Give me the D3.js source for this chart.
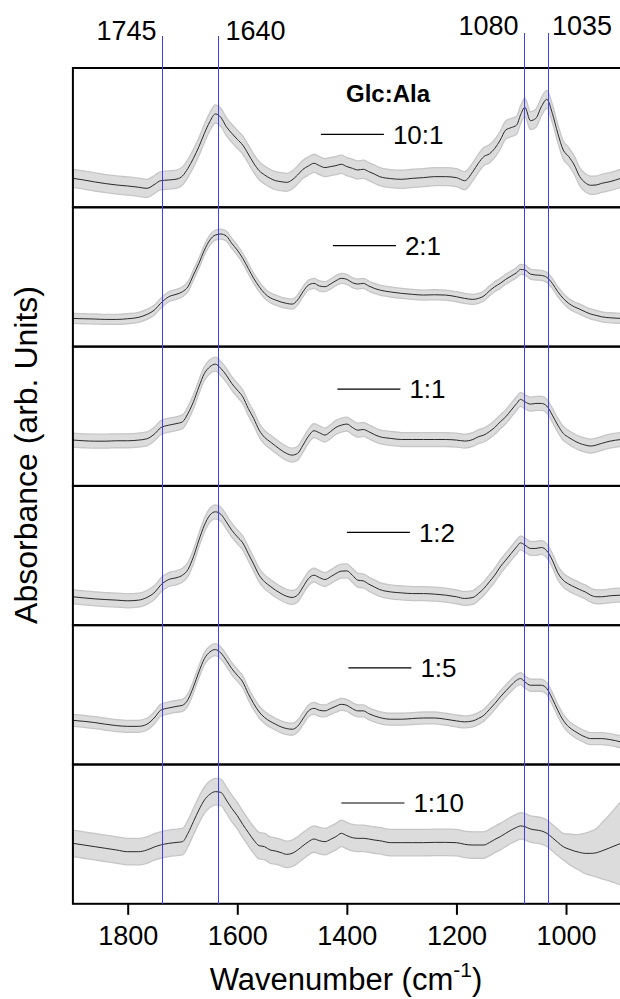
<!DOCTYPE html>
<html>
<head>
<meta charset="utf-8">
<script src="https://cdn.jsdelivr.net/npm/d3@7"></script>
<style>
body { margin: 0; background: #fff; }
svg { display: block; font-family: "Liberation Sans", Arial, sans-serif; }
</style>
</head>
<body>
<svg id="chart" width="620" height="999"></svg>
<script>
// shared wavenumber grid, cm-1
var wavenumbers = [
  1900, 1880, 1860, 1840, 1820, 1800, 1780, 1765, 1750, 1740,
  1725, 1710, 1700, 1690, 1680, 1670, 1660, 1650, 1640, 1630,
  1620, 1610, 1600, 1590, 1580, 1570, 1560, 1550, 1540, 1530,
  1520, 1510, 1500, 1490, 1480, 1470, 1460, 1450, 1440, 1430,
  1420, 1410, 1400, 1390, 1380, 1370, 1360, 1350, 1340, 1320,
  1300, 1280, 1260, 1240, 1220, 1200, 1185, 1170, 1160, 1150,
  1140, 1130, 1120, 1110, 1100, 1090, 1083, 1075, 1065, 1055,
  1045, 1035, 1025, 1015, 1005, 995, 985, 975, 965, 955,
  945, 935, 920, 900
];

var ratios = ["10:1", "2:1", "1:1", "1:2", "1:5", "1:10"];

// absorbance, arb. units (0-100 per panel)
var abs_10_1 = [
  20.8, 19.6, 18.2, 17.0, 16.0, 15.3, 14.4, 13.6, 16.7, 19.1,
  19.6, 20.3, 22.5, 28.0, 35.2, 43.5, 53.1, 61.5, 67.0, 64.6,
  57.9, 53.1, 48.8, 44.7, 38.3, 31.6, 26.3, 23.2, 20.8, 19.1,
  18.4, 17.9, 19.6, 23.2, 27.3, 29.7, 31.6, 29.9, 28.5, 29.2,
  29.9, 30.9, 29.2, 28.0, 26.8, 27.3, 25.6, 23.9, 22.0, 20.6,
  20.1, 20.8, 21.3, 22.0, 22.0, 21.3, 19.1, 25.6, 31.6, 36.4,
  38.3, 42.3, 48.3, 55.5, 57.2, 59.1, 66.3, 71.8, 62.2, 63.9,
  72.2, 77.5, 67.5, 53.1, 41.1, 36.4, 30.4, 22.0, 17.7, 15.8,
  16.0, 17.2, 18.4, 20.8
];
var abs_2_1 = [
  20.2, 20.0, 19.8, 19.5, 19.5, 20.0, 21.0, 23.1, 26.7, 31.0,
  35.8, 37.7, 39.4, 43.0, 51.4, 59.8, 69.3, 76.5, 80.1, 80.8,
  79.4, 74.1, 69.3, 63.4, 56.2, 49.0, 43.0, 38.2, 35.1, 33.4,
  32.0, 31.0, 30.5, 33.4, 39.4, 44.2, 45.4, 43.5, 43.0, 44.9,
  47.3, 49.0, 48.3, 45.9, 44.9, 45.4, 43.5, 41.8, 40.6, 39.2,
  38.2, 37.5, 37.0, 37.2, 37.0, 35.8, 34.6, 33.9, 34.6, 36.3,
  39.9, 43.0, 45.4, 48.3, 50.7, 53.1, 55.4, 55.0, 52.1, 51.4,
  51.1, 49.7, 45.4, 39.4, 34.6, 31.0, 28.6, 26.9, 25.0, 23.4,
  22.4, 21.4, 20.7, 20.2
];
var abs_1_1 = [
  32.9, 32.4, 32.1, 32.1, 32.4, 32.4, 32.9, 33.8, 37.7, 41.7,
  43.6, 44.8, 46.0, 52.0, 60.4, 71.1, 80.7, 85.5, 87.4, 84.3,
  79.5, 73.5, 68.8, 64.0, 55.6, 48.4, 40.0, 34.8, 31.7, 28.6,
  25.7, 23.3, 22.1, 23.3, 29.3, 35.7, 39.6, 38.1, 36.5, 38.9,
  42.0, 43.6, 44.4, 42.0, 40.0, 40.5, 38.9, 36.9, 35.3, 34.1,
  33.3, 33.3, 33.3, 33.3, 33.3, 32.9, 32.2, 33.3, 35.3, 36.5,
  38.9, 42.0, 46.0, 49.6, 54.4, 59.2, 62.1, 60.4, 58.7, 59.2,
  59.2, 57.3, 50.8, 43.6, 37.7, 34.8, 32.4, 30.5, 29.3, 28.6,
  29.3, 30.5, 32.1, 33.3
];
var abs_1_2 = [
  20.4, 19.6, 18.9, 18.4, 18.0, 17.5, 18.0, 19.9, 23.9, 28.7,
  32.8, 34.2, 35.9, 40.0, 49.1, 61.1, 71.8, 79.0, 81.4, 79.7,
  74.2, 68.2, 63.5, 59.1, 51.5, 43.8, 35.9, 31.1, 28.0, 25.1,
  22.7, 20.8, 19.9, 21.6, 27.5, 33.5, 35.9, 34.2, 32.8, 34.7,
  37.1, 38.8, 39.0, 35.9, 32.3, 31.8, 29.5, 27.5, 25.6, 23.9,
  23.2, 22.7, 22.7, 22.3, 21.6, 20.4, 19.2, 19.9, 22.7, 26.3,
  31.1, 35.9, 41.9, 46.7, 51.5, 56.3, 59.1, 57.5, 55.1, 55.1,
  55.8, 53.4, 46.7, 37.6, 32.3, 29.5, 27.5, 25.6, 23.9, 21.6,
  20.4, 20.4, 21.1, 21.6
];
var abs_1_5 = [
  31.7, 31.0, 30.1, 28.9, 27.9, 27.4, 27.4, 28.9, 34.1, 38.9,
  40.6, 41.8, 42.5, 46.6, 55.7, 66.5, 76.0, 80.8, 82.5, 80.1,
  74.8, 68.8, 64.1, 59.3, 50.9, 43.7, 37.7, 33.7, 31.0, 28.9,
  27.0, 25.8, 25.3, 27.4, 32.9, 38.5, 40.3, 38.9, 38.5, 40.1,
  41.8, 43.2, 42.5, 40.1, 38.5, 38.5, 36.5, 34.9, 33.7, 32.5,
  32.5, 33.0, 33.4, 33.4, 32.5, 31.3, 30.6, 31.3, 33.0, 35.3,
  39.4, 43.7, 48.5, 52.8, 56.9, 60.5, 61.7, 59.3, 56.9, 56.9,
  56.9, 54.5, 47.3, 38.9, 31.7, 27.0, 24.1, 21.7, 19.8, 18.6,
  18.6, 18.6, 17.9, 16.2
];
var abs_1_10 = [
  43.4, 42.2, 41.0, 39.8, 38.6, 37.4, 37.4, 38.6, 41.0, 42.2,
  43.4, 44.1, 44.6, 50.6, 59.0, 67.4, 74.5, 78.6, 80.5, 80.0,
  74.5, 68.5, 63.3, 57.0, 51.3, 45.8, 41.7, 41.0, 38.6, 37.9,
  36.7, 35.5, 36.2, 38.6, 41.7, 44.6, 46.5, 45.3, 44.6, 46.2,
  48.2, 50.6, 48.9, 47.5, 47.0, 47.0, 46.5, 45.8, 45.3, 43.9,
  43.9, 43.9, 43.9, 44.1, 44.1, 43.9, 42.7, 42.2, 42.2, 42.2,
  43.9, 46.2, 48.2, 50.6, 53.0, 54.9, 55.9, 55.4, 53.7, 53.0,
  52.3, 50.6, 47.5, 44.1, 41.0, 39.3, 37.9, 36.9, 36.2, 36.2,
  36.6, 37.9, 40.2, 43.4
];
var series = [abs_10_1, abs_2_1, abs_1_1, abs_1_2, abs_1_5, abs_1_10];

// standard deviation (error bars), same units
var sd_1_10 = [
  9.5, 9.5, 9.5, 9.5, 9.5, 9.5, 9.5, 9.5, 9.5, 9.5,
  9.5, 9.5, 9.5, 9.5, 9.5, 9.5, 9.5, 9.5, 9.5, 9.5,
  9.5, 9.5, 9.5, 9.5, 9.5, 9.5, 9.5, 9.5, 9.5, 9.5,
  9.5, 9.5, 9.5, 9.5, 9.5, 9.5, 9.5, 9.5, 9.5, 9.5,
  9.5, 9.5, 9.5, 9.5, 9.5, 9.5, 9.5, 9.5, 9.5, 9.5,
  9.5, 9.5, 9.5, 9.5, 9.5, 9.5, 9.5, 9.5, 9.5, 9.5,
  9.5, 9.5, 9.5, 9.5, 9.5, 9.5, 9.5, 9.5, 9.5, 9.5,
  9.5, 9.5, 9.5, 9.5, 9.5, 10.8, 11.8, 13.0, 14.5, 15.8,
  17.2, 20.0, 24.0, 30.0
];
var sdValues = [6.5, 3.6, 5.0, 5.0, 4.3, sd_1_10];

// marked bands
var bandLabels = ["1745", "1640", "1080", "1035"];
var bandLines = [1737, 1636, 1077, 1032];
var xTicks = [1800, 1600, 1400, 1200, 1000];

// layout
var W = 620;
var left = 72.9, top0 = 68, panelH = 139.3;
var bandLayout = [
  { anchor: "end", dx: -6, y: 40, y0: 36 },
  { anchor: "start", dx: 7, y: 40, y0: 36 },
  { anchor: "end", dx: -6, y: 35, y0: 33 },
  { anchor: "start", dx: 3.5, y: 35, y0: 33 }
];
var legendPos = [[248, 66.3], [260, 38.4], [264.5, 42.5], [274, 46.5], [275.5, 42.7], [268.5, 38.5]];

var svg = d3.select("#chart");
var bottom = top0 + panelH * ratios.length;

var x = d3.scaleLinear().domain([1900, 800]).range([left, left + 1100 * 0.5479]);

svg.append("defs").append("clipPath").attr("id", "plotclip")
  .append("rect").attr("x", left).attr("y", top0).attr("width", W - left).attr("height", bottom - top0);

var plot = svg.append("g").attr("clip-path", "url(#plotclip)");

ratios.forEach(function (r, i) {
  var pt = top0 + i * panelH;
  var y = d3.scaleLinear().domain([0, 100]).range([pt + panelH, pt]);
  var vals = series[i];
  var s = sdValues[i];
  var sdAt = function (j) { return Array.isArray(s) ? s[j] : s; };
  var pts = wavenumbers.map(function (w, j) { return { w: w, v: vals[j], e: sdAt(j) }; });

  var area = d3.area()
    .x(function (d) { return x(d.w); })
    .y0(function (d) { return y(d.v - d.e); })
    .y1(function (d) { return y(d.v + d.e); })
    .curve(d3.curveMonotoneX);
  var line = d3.line()
    .x(function (d) { return x(d.w); })
    .y(function (d) { return y(d.v); })
    .curve(d3.curveMonotoneX);

  plot.append("path").datum(pts).attr("d", area)
    .attr("fill", "#dcdcdc").attr("stroke", "#c6c6c6").attr("stroke-width", 1.3);
  plot.append("path").datum(pts).attr("d", line)
    .attr("fill", "none").attr("stroke", "#2a2a2a").attr("stroke-width", 1);

  // legend
  var lp = legendPos[i];
  var ly = pt + lp[1];
  svg.append("line").attr("x1", left + lp[0]).attr("x2", left + lp[0] + 63)
    .attr("y1", ly).attr("y2", ly).attr("stroke", "#000").attr("stroke-width", 1.2);
  svg.append("text").attr("x", left + lp[0] + 72).attr("y", ly).attr("dy", "0.36em")
    .attr("font-size", 26).text(r);
});

// panel frames
ratios.forEach(function (r, i) {
  svg.append("rect").attr("x", left).attr("y", top0 + i * panelH)
    .attr("width", W).attr("height", panelH)
    .attr("fill", "none").attr("stroke", "#000").attr("stroke-width", 2);
});

svg.append("text").attr("x", 388).attr("y", 101.5).attr("text-anchor", "middle")
  .attr("font-size", 24).attr("font-weight", "bold").text("Glc:Ala");

// band guide lines and labels (snapped to the pixel grid so they stay blue)
bandLines.forEach(function (w, i) {
  var b = bandLayout[i];
  var px = Math.round(x(w)) + 0.5;
  svg.append("line").attr("x1", px).attr("x2", px).attr("y1", b.y0).attr("y2", bottom)
    .attr("stroke", "#3d3dff").attr("stroke-width", 1);
  svg.append("text").attr("x", px + b.dx).attr("y", b.y)
    .attr("text-anchor", b.anchor).attr("font-size", 27).text(bandLabels[i]);
});

// x axis
var ax = svg.append("g").attr("transform", "translate(0," + bottom + ")")
  .call(d3.axisBottom(x).tickValues(xTicks).tickFormat(d3.format("d"))
    .tickSize(11).tickSizeOuter(0).tickPadding(11));
ax.select(".domain").remove();
ax.selectAll(".tick line").attr("stroke", "#000").attr("stroke-width", 2);
ax.selectAll(".tick text").attr("font-size", 27).attr("fill", "#000")
  .attr("font-family", "Liberation Sans, Arial, sans-serif");

var xl = svg.append("text").attr("x", 346).attr("y", 990).attr("text-anchor", "middle")
  .attr("font-size", 31);
xl.append("tspan").text("Wavenumber (cm");
xl.append("tspan").attr("font-size", 21).attr("dy", -13).text("-1");
xl.append("tspan").attr("dy", 13).text(")");

svg.append("text").attr("transform", "translate(37,455) rotate(-90)")
  .attr("text-anchor", "middle").attr("font-size", 32).text("Absorbance (arb. Units)");
</script>
</body>
</html>
